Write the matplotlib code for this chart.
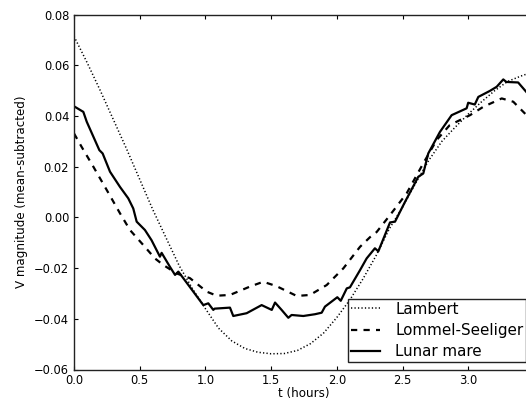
import matplotlib
matplotlib.use("Agg")
import matplotlib.pyplot as plt
import numpy as np

# ---- data ----
lambert_t = [0.0, 0.1, 0.2, 0.3, 0.4, 0.5, 0.6, 0.7, 0.8, 0.9,
             1.0, 1.1, 1.2, 1.3, 1.4, 1.5, 1.6, 1.7, 1.8, 1.9,
             2.0, 2.1, 2.2, 2.3, 2.4, 2.5, 2.6, 2.7, 2.8, 2.9,
             3.0, 3.1, 3.2, 3.3, 3.4, 3.5]
lambert_v = [0.0714, 0.0610, 0.0500, 0.0385, 0.0270, 0.0150, 0.0030, -0.0080, -0.0190, -0.0280,
             -0.0360, -0.0437, -0.0487, -0.0517, -0.0532, -0.0538, -0.0537, -0.0525, -0.0498, -0.0456,
             -0.0395, -0.0325, -0.0242, -0.0150, -0.0045, 0.0040, 0.0135, 0.0225, 0.0300, 0.0355,
             0.0407, 0.0455, 0.0499, 0.0536, 0.0557, 0.0575]

lommel_t = [0.0, 0.058, 0.147, 0.249, 0.35, 0.426, 0.527, 0.616, 0.68, 0.78,
            0.883, 1.01, 1.086, 1.187, 1.339, 1.44, 1.54, 1.695, 1.796, 1.923,
            2.05, 2.177, 2.253, 2.303, 2.405, 2.532, 2.658, 2.76, 2.86, 3.014,
            3.115, 3.255, 3.343, 3.45]
lommel_v = [0.0331, 0.0278, 0.0200, 0.0108, 0.0016, -0.0050, -0.0109, -0.0162, -0.0188, -0.0221,
            -0.0240, -0.0293, -0.0309, -0.0306, -0.0273, -0.0254, -0.0271, -0.0310, -0.0306, -0.0267,
            -0.0201, -0.0116, -0.0078, -0.0058, 0.0009, 0.0095, 0.0213, 0.0305, 0.0364, 0.0403,
            0.0436, 0.0469, 0.0456, 0.0400]

mare_t = [0.0, 0.071, 0.097, 0.193, 0.218, 0.274, 0.35, 0.413, 0.451, 0.477,
          0.54, 0.59, 0.654, 0.667, 0.73, 0.769, 0.794, 0.832, 0.984, 1.022,
          1.06, 1.07, 1.187, 1.212, 1.314, 1.428, 1.505, 1.53, 1.58, 1.631,
          1.656, 1.745, 1.834, 1.885, 1.91, 2.004, 2.03, 2.076, 2.1, 2.177,
          2.227, 2.29, 2.316, 2.405, 2.443, 2.519, 2.62, 2.658, 2.696, 2.785,
          2.874, 2.988, 3.0, 3.05, 3.077, 3.166, 3.217, 3.267, 3.29, 3.38, 3.45]
mare_v = [0.0438, 0.0416, 0.0377, 0.0265, 0.0252, 0.0180, 0.0120, 0.0075, 0.0035, -0.0017,
          -0.0050, -0.0090, -0.0155, -0.0140, -0.0195, -0.0227, -0.0214, -0.0240, -0.0346, -0.0339,
          -0.0365, -0.0360, -0.0356, -0.0389, -0.0378, -0.0346, -0.0365, -0.0336, -0.0365, -0.0396,
          -0.0385, -0.0389, -0.0382, -0.0376, -0.0352, -0.0315, -0.0329, -0.0280, -0.0276, -0.0208,
          -0.0162, -0.0122, -0.0134, -0.0020, -0.0017, 0.0061, 0.0160, 0.0173, 0.0252, 0.0337,
          0.0403, 0.0430, 0.0452, 0.0445, 0.0475, 0.0499, 0.0515, 0.0544, 0.0534, 0.0532, 0.0490]

x_ticks = [0.0, 0.5, 1.0, 1.5, 2.0, 2.5, 3.0]
y_ticks = [-0.06, -0.04, -0.02, 0.00, 0.02, 0.04, 0.06, 0.08]

# ---- style ----
plt.rcParams['font.family'] = ['DejaVu Sans']
plt.rcParams['lines.scale_dashes'] = False
plt.rcParams['xtick.direction'] = 'in'
plt.rcParams['ytick.direction'] = 'in'
plt.rcParams['xtick.top'] = True
plt.rcParams['ytick.right'] = True
plt.rcParams['xtick.major.size'] = 3.2
plt.rcParams['ytick.major.size'] = 3.2
plt.rcParams['xtick.major.pad'] = 3.0
plt.rcParams['ytick.major.pad'] = 3.5

fig = plt.figure(figsize=(5.26, 4.0), dpi=100)
fig.patch.set_facecolor('white')
# axes extends slightly past the right edge (reference is cropped there)
ax = fig.add_axes([74 / 526, 30.5 / 400, (3.5 * 131.4) / 526, 355.0 / 400])

ax.plot(lambert_t, lambert_v, color='black', linestyle=(0, (0.9, 1.6)), lw=1.1, label='Lambert')
ax.plot(lommel_t, lommel_v, color='black', linestyle=(0, (4.5, 4.5)), lw=1.6, label='Lommel-Seeliger')
ax.plot(mare_t, mare_v, color='black', linestyle='-', lw=1.6, label='Lunar mare')

ax.set_xlim(0.0, 3.5)
ax.set_ylim(-0.06, 0.08)
ax.set_xticks(x_ticks)
ax.set_yticks(y_ticks)
ax.set_xticklabels([f"{v:.1f}" for v in x_ticks])
ax.set_yticklabels([f"{v:.2f}".replace('-', '\u2212') for v in y_ticks])
ax.tick_params(labelsize=8.3, width=0.8)
for s in ax.spines.values():
    s.set_linewidth(1.0)
    s.set_color('#222222')

ax.set_xlabel('t (hours)', fontsize=8.6, labelpad=0.5)
ax.set_ylabel('V magnitude (mean-subtracted)', fontsize=8.6, labelpad=4)

leg = ax.legend(loc='lower right', fontsize=10.9, fancybox=False, framealpha=1,
                edgecolor='#222222', labelspacing=0.4, borderpad=0.2,
                handlelength=1.9, handletextpad=1.0, borderaxespad=0.5)
leg.get_frame().set_linewidth(1.0)

fig.savefig('out.png', dpi=100, facecolor='white')
